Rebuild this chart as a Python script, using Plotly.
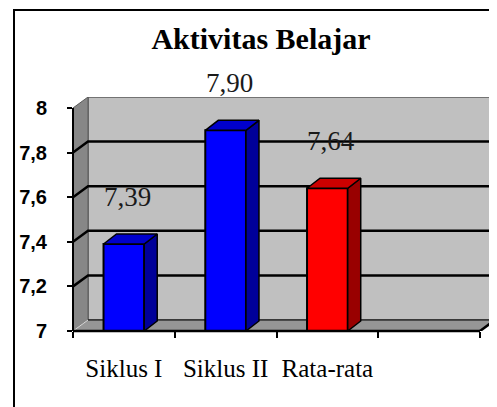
import plotly.graph_objects as go

# ---------------- data ----------------
categories = ["Siklus I", "Siklus II", "Rata-rata"]
values = [7.39, 7.90, 7.64]
value_labels = ["7,39", "7,90", "7,64"]
y_ticks = [7, 7.2, 7.4, 7.6, 7.8, 8]
y_ticktext = ["7", "7,2", "7,4", "7,6", "7,8", "8"]
title = "Aktivitas Belajar"

# ---------------- styles ----------------
face_colors = ["#0000FF", "#0000FF", "#FF0000"]
side_colors = ["#000099", "#000099", "#990000"]
top_colors = ["#0000CC", "#0000CC", "#CC0000"]
OFF = 8                      # page body margin
W, H = 497 - OFF, 407 - OFF
ML, MT = 73 - OFF, 97 - OFF
PX_X = 101.75      # pixels per category slot
PX_Y = 223.0       # pixels per value unit
YMIN, YMAX = y_ticks[0], y_ticks[-1]
n_slots = len(categories) + 1
XMIN = -0.5
XFLOOR = XMIN + n_slots
wdx, wdy = 15 / PX_X, 11 / PX_Y     # wall depth
bdx, bdy = 13 / PX_X, 10 / PX_Y     # bar depth
BAR_W = 0.4
x_hi = XFLOOR + 17 / PX_X
y_hi = YMAX + wdy
PW = (x_hi - XMIN) * PX_X
PH = (y_hi - YMIN) * PX_Y
MR = W - ML - PW
MB = H - MT - PH

fig = go.Figure()

# front faces of the bars
fig.add_trace(go.Bar(
    x=list(range(len(categories))), y=values, width=BAR_W,
    marker=dict(color=face_colors, line=dict(color="black", width=2)),
    hoverinfo="skip", showlegend=False,
))

# side and top faces
for i, v in enumerate(values):
    xr = i + BAR_W / 2
    xl = i - BAR_W / 2
    fig.add_trace(go.Scatter(
        x=[xr, xr + bdx, xr + bdx, xr, xr], y=[YMIN, YMIN + bdy, v + bdy, v, YMIN],
        fill="toself", fillcolor=side_colors[i], mode="lines",
        line=dict(color="black", width=1.5), hoverinfo="skip", showlegend=False))
    fig.add_trace(go.Scatter(
        x=[xl, xr, xr + bdx, xl + bdx, xl], y=[v, v, v + bdy, v + bdy, v],
        fill="toself", fillcolor=top_colors[i], mode="lines",
        line=dict(color="black", width=1.5), hoverinfo="skip", showlegend=False))

shapes = []
# back wall
shapes.append(dict(type="rect", xref="x", yref="y", layer="below",
                   x0=XMIN + wdx, x1=XFLOOR + wdx, y0=YMIN + wdy, y1=YMAX + wdy,
                   fillcolor="#C0C0C0", line=dict(color="#5A5A5A", width=1.5)))
# left wall
shapes.append(dict(type="path", xref="x", yref="y", layer="below",
                   path=f"M {XMIN},{YMIN} L {XMIN + wdx},{YMIN + wdy} L {XMIN + wdx},{YMAX + wdy} L {XMIN},{YMAX} Z",
                   fillcolor="#878787", line=dict(color="#5A5A5A", width=1)))
# floor
shapes.append(dict(type="path", xref="x", yref="y", layer="below",
                   path=f"M {XMIN},{YMIN} L {XFLOOR},{YMIN} L {XFLOOR + wdx},{YMIN + wdy} L {XMIN + wdx},{YMIN + wdy} Z",
                   fillcolor="#969696", line=dict(width=0)))
shapes.append(dict(type="line", xref="x", yref="y", layer="below",
                   x0=XMIN + wdx, x1=XFLOOR + wdx, y0=YMIN + wdy, y1=YMIN + wdy,
                   line=dict(color="black", width=1)))
shapes.append(dict(type="line", xref="x", yref="y", layer="below",
                   x0=XMIN, x1=XMIN + wdx, y0=YMIN, y1=YMIN + wdy,
                   line=dict(color="#D8D8D8", width=1)))
# gridlines
for v in y_ticks[1:-1]:
    shapes.append(dict(type="path", xref="x", yref="y", layer="below",
                       path=f"M {XMIN},{v} L {XMIN + wdx},{v + wdy} L {XFLOOR + wdx},{v + wdy}",
                       line=dict(color="black", width=2.5)))
# floor right edge
shapes.append(dict(type="line", xref="x", yref="y", layer="above",
                   x0=XFLOOR, x1=XFLOOR + wdx, y0=YMIN, y1=YMIN + wdy,
                   line=dict(color="black", width=2.5)))
# axis lines
shapes.append(dict(type="line", xref="paper", yref="paper", layer="above",
                   x0=0, x1=0, y0=0, y1=(YMAX - YMIN) / (y_hi - YMIN),
                   line=dict(color="black", width=2)))
shapes.append(dict(type="line", xref="paper", yref="paper", layer="above",
                   x0=0, x1=(XFLOOR - XMIN) / (x_hi - XMIN), y0=0, y1=0,
                   line=dict(color="black", width=2.5)))
# outer frame
shapes.append(dict(type="rect", xref="paper", yref="paper", layer="above",
                   x0=(14 - OFF - ML) / PW, x1=1 + (MR + 10) / PW,
                   y0=-(MB + 10) / PH, y1=1 + (MT - (10 - OFF)) / PH,
                   line=dict(color="black", width=2)))

annotations = []
for i, (v, t) in enumerate(zip(values, value_labels)):
    annotations.append(dict(x=i, y=v, xref="x", yref="y", text=t, showarrow=False,
                            xshift=4, yshift=47, yanchor="middle",
                            font=dict(family="Liberation Serif", size=27, color="#1a1a1a")))

fig.update_layout(
    width=W, height=H,
    margin=dict(l=ML, r=MR, t=MT, b=MB, pad=0),
    paper_bgcolor="white", plot_bgcolor="white",
    title=dict(text=f"<b>{title}</b>", x=(261 - OFF) / W, xref="container", xanchor="center",
               y=1 - (38 - OFF) / H, yref="container", yanchor="middle",
               font=dict(family="Liberation Serif", size=30, color="black")),
    shapes=shapes, annotations=annotations,
    xaxis=dict(range=[XMIN, x_hi], tickmode="array", tickvals=list(range(len(categories))),
               ticktext=categories, ticks="", showgrid=False, zeroline=False, showline=False,
               tickfont=dict(family="Liberation Serif", size=25, color="black"),
               ticklabelstandoff=20,
               minor=dict(tickmode="array", tickvals=[XMIN + k for k in range(n_slots + 1)],
                          ticks="outside", ticklen=6, tickwidth=2, tickcolor="black", showgrid=False)),
    yaxis=dict(range=[YMIN, y_hi], tickmode="array", tickvals=y_ticks, ticktext=y_ticktext,
               ticks="outside", ticklen=5, tickwidth=2, tickcolor="black",
               showgrid=False, zeroline=False, showline=False,
               tickfont=dict(family="Liberation Sans", size=20, color="black", weight="bold"),
               ticklabelstandoff=16),
)

fig.write_html("out.html")
